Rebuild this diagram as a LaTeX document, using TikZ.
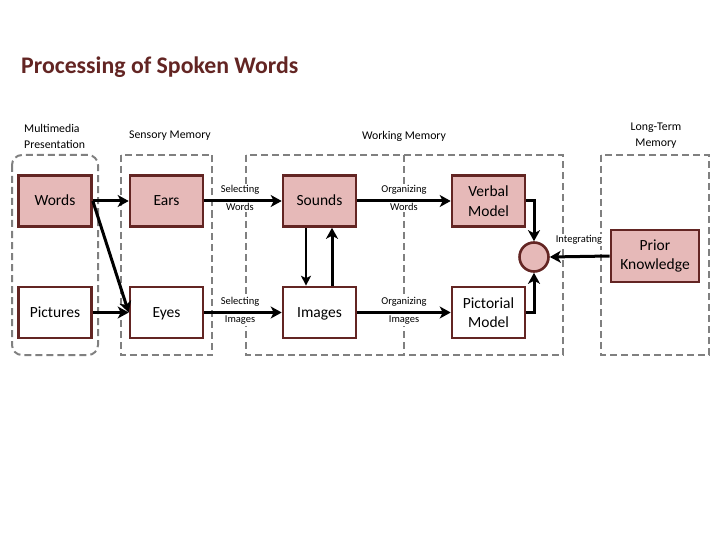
\documentclass[tikz,border=0pt]{standalone}
\usepackage{fontspec}
\setmainfont{Carlito}
\usetikzlibrary{arrows.meta}
\definecolor{brd}{HTML}{632523}
\definecolor{pinkfill}{HTML}{E6B9B8}
\definecolor{dashgray}{HTML}{808080}
\tikzset{
  stagebox/.style={draw=brd, line width=2.6pt, minimum width=73pt, minimum height=51pt, inner sep=1pt, align=center, font=\fontsize{15.5}{19.5}\selectfont},
  hot/.style={stagebox, fill=pinkfill},
  cold/.style={stagebox, fill=white},
  oneline/.style={text height=12pt, text depth=2pt},
  zone/.style={draw=dashgray, line width=2pt, dash pattern=on 7pt off 4pt},
  head/.style={font=\fontsize{11.8}{16}\selectfont, inner sep=0pt},
  steplabel/.style={font=\fontsize{10.5}{18}\selectfont, fill=white, inner sep=1pt, align=center},
  conn/.style={line width=3pt, -{Stealth[length=11pt,width=12pt,inset=3pt]}},
  thinconn/.style={line width=1.6pt, -{Stealth[length=10pt,width=10pt,inset=2.5pt]}}
}
\begin{document}
\begin{tikzpicture}[x=1pt,y=-1pt]
\useasboundingbox (0,0) rectangle (720,540);
% title
\node[anchor=west, inner sep=0pt, text=brd, font=\fontsize{23.8}{28}\selectfont\bfseries] (title) at (21,67) {Processing of Spoken Words};
% headers
\node[head, anchor=west, align=left] (hmp) at (24,136) {Multimedia\\Presentation};
\node[head, anchor=west] (hsm) at (129,136) {Sensory Memory};
\node[head] (hwm) at (404,136) {Working Memory};
\node[head, align=center] (hltm) at (656,136) {Long-Term\\Memory};
% zones
\draw[zone, rounded corners=10pt] (12,155) rectangle (98,355);
\draw[zone] (120.5,155) rectangle (212,355);
\draw[zone] (246,155) rectangle (563,355);
\draw[zone] (404,155) -- (404,355);
\draw[zone] (601,155) rectangle (709,355);
% step labels
\node[steplabel] (lsw) at (240,198) {Selecting\\Words};
\node[steplabel] (lsi) at (240,311) {Selecting\\Images};
\node[steplabel] (low) at (404,198) {Organizing\\Words};
\node[steplabel] (loi) at (404,311) {Organizing\\Images};
\node[steplabel] (lint) at (579,240) {Integrating};
% boxes
\node[hot, oneline] (words) at (55,201) {Words};
\node[cold, oneline] (pictures) at (55,312.5) {Pictures};
\node[hot, oneline] (ears) at (166.5,201) {Ears};
\node[cold, oneline] (eyes) at (166.5,312.5) {Eyes};
\node[hot, oneline] (sounds) at (319.5,201) {Sounds};
\node[cold, oneline] (images) at (319.5,312.5) {Images};
\node[hot] (verbal) at (488.5,201) {Verbal\\Model};
\node[cold] (pictorial) at (488.5,312.5) {Pictorial\\Model};
\node[hot, minimum width=88pt, minimum height=52pt] (prior) at (655,256) {Prior\\Knowledge};
\node[draw=brd, fill=pinkfill, line width=2.6pt, circle, minimum size=29pt, inner sep=0pt] (integ) at (534,257) {};
% connectors
\draw[conn] (words.east) -- (ears.west);
\draw[conn] (words.east) -- (eyes.west);
\draw[conn] (pictures.east) -- (eyes.west);
\draw[conn] (ears.east) -- (sounds.west);
\draw[conn] (eyes.east) -- (images.west);
\draw[conn] (sounds.east) -- (verbal.west);
\draw[conn] (images.east) -- (pictorial.west);
\draw[thinconn] ([xshift=-13.5pt]sounds.south) -- ([xshift=-13.5pt]images.north);
\draw[conn] ([xshift=12.5pt]images.north) -- ([xshift=12.5pt]sounds.south);
\draw[conn] (verbal.east) -| (integ.north);
\draw[conn] (pictorial.east) -| (integ.south);
\draw[conn] (prior.west) -- (integ.east);
\end{tikzpicture}
\end{document}
